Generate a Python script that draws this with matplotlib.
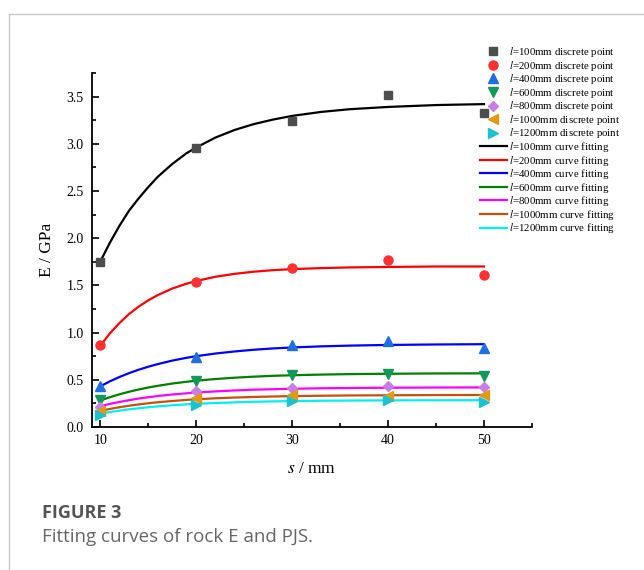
import matplotlib.pyplot as plt
from matplotlib.lines import Line2D
from matplotlib.ticker import MultipleLocator

plt.rcParams['font.family'] = 'Liberation Serif'
plt.rcParams['mathtext.fontset'] = 'stix'

# measured points, E in GPa vs joint spacing s in mm
s_points = [10, 20, 30, 40, 50]
lengths = [100, 200, 400, 600, 800, 1000, 1200]
e_points = {
    100: [1.75, 2.96, 3.245, 3.52, 3.33],
    200: [0.87, 1.54, 1.68, 1.77, 1.61],
    400: [0.435, 0.745, 0.87, 0.915, 0.835],
    600: [0.286, 0.49, 0.55, 0.56, 0.54],
    800: [0.215, 0.38, 0.41, 0.435, 0.42],
    1000: [0.17, 0.31, 0.34, 0.33, 0.34],
    1200: [0.127, 0.233, 0.27, 0.286, 0.26],
}

# fitted curves
s_curve = [10, 11, 12, 13, 14, 15, 16, 17.5, 19, 20, 22, 24, 26, 28, 30, 33, 36, 40, 45, 50]
e_curve = {
    100: [1.75, 1.95, 2.13, 2.29, 2.42, 2.54, 2.65, 2.785, 2.90, 2.96, 3.065, 3.146, 3.208,
          3.256, 3.295, 3.337, 3.366, 3.39, 3.41, 3.42],
    200: [0.86, 0.99, 1.10, 1.196, 1.274, 1.341, 1.397, 1.466, 1.518, 1.546, 1.591, 1.622,
          1.645, 1.661, 1.672, 1.683, 1.69, 1.695, 1.70, 1.70],
    400: [0.43, 0.483, 0.529, 0.570, 0.606, 0.638, 0.666, 0.703, 0.733, 0.75, 0.778, 0.80,
          0.818, 0.832, 0.842, 0.854, 0.862, 0.869, 0.874, 0.877],
    600: [0.28, 0.315, 0.346, 0.373, 0.397, 0.418, 0.436, 0.460, 0.479, 0.490, 0.508, 0.522,
          0.533, 0.542, 0.548, 0.555, 0.560, 0.564, 0.567, 0.568],
    800: [0.22, 0.244, 0.265, 0.284, 0.301, 0.315, 0.328, 0.344, 0.357, 0.365, 0.377, 0.387,
          0.395, 0.400, 0.405, 0.410, 0.413, 0.416, 0.418, 0.419],
    1000: [0.17, 0.191, 0.209, 0.225, 0.239, 0.251, 0.262, 0.275, 0.287, 0.293, 0.304, 0.312,
           0.318, 0.323, 0.327, 0.331, 0.334, 0.336, 0.338, 0.339],
    1200: [0.14, 0.158, 0.173, 0.187, 0.198, 0.209, 0.218, 0.230, 0.240, 0.245, 0.254, 0.261,
           0.267, 0.271, 0.274, 0.278, 0.280, 0.282, 0.283, 0.284],
}

markers = ['s', 'o', '^', 'v', 'D', '<', '>']
marker_colors = ['#4d4d4d', '#ff3030', '#1f6fe0', '#12985a', '#c77fe6', '#e09a10', '#1cc0d0']
marker_sizes = [6, 6.5, 7, 7, 5.5, 7, 7]
line_colors = ['black', '#ff0000', '#0000ff', '#008000', '#ff00ff', '#c8500a', '#00f0f0']

fig = plt.figure(figsize=(6.44, 5.70), dpi=100)
ax = fig.add_axes([0.1429, 0.2509, 0.826 - 0.1429, 0.872 - 0.2509])

for i, l in enumerate(lengths):
    ax.plot(s_points, e_points[l], linestyle='none', marker=markers[i],
            color=marker_colors[i], markersize=marker_sizes[i], zorder=3,
            label=r'$\mathit{l}$=%dmm discrete point' % l)
for i, l in enumerate(lengths):
    ax.plot(s_curve, e_curve[l], color=line_colors[i], lw=1.6, zorder=2,
            solid_joinstyle='round', label=r'$\mathit{l}$=%dmm curve fitting' % l)

ax.set_xlim(9.15, 55)
ax.set_ylim(0, 3.75)
ax.xaxis.set_minor_locator(MultipleLocator(5))
ax.yaxis.set_minor_locator(MultipleLocator(0.25))
ax.set_xticks([10, 20, 30, 40, 50])
ax.set_yticks([0, 0.5, 1.0, 1.5, 2.0, 2.5, 3.0, 3.5])
ax.set_yticklabels(['0.0', '0.5', '1.0', '1.5', '2.0', '2.5', '3.0', '3.5'])
ax.tick_params(which='both', direction='in', width=1.2, labelsize=10)
ax.tick_params(which='major', length=5)
ax.tick_params(which='minor', length=3)
ax.tick_params(axis='y', pad=6)
ax.tick_params(axis='x', pad=5)
for side in ['top', 'right']:
    ax.spines[side].set_visible(False)
for side in ['left', 'bottom']:
    ax.spines[side].set_linewidth(1.3)

ax.set_ylabel('E / GPa', fontsize=12.5, labelpad=8)
ax.set_xlabel(r'$\mathit{s}$ / mm', fontsize=12.5, labelpad=10)

fig.legend(loc='upper left', bbox_to_anchor=(0.745, 0.921), frameon=False,
           fontsize=7.8, labelspacing=-0.04, handlelength=2.5, handletextpad=0.2,
           borderpad=0, borderaxespad=0)

# page frame lines
fig.add_artist(Line2D([9 / 644, 1], [1 - 14 / 570, 1 - 14 / 570], color='#c8c8c8', lw=1))
fig.add_artist(Line2D([9 / 644, 9 / 644], [0, 1 - 14 / 570], color='#c8c8c8', lw=1))

fig.text(42 / 644, 1 - 513 / 570, 'FIGURE 3', fontfamily='Open Sans', fontweight='bold',
         fontsize=13, color='#555555', va='center')
fig.text(42 / 644, 1 - 537 / 570, 'Fitting curves of rock E and PJS.', fontfamily='Open Sans',
         fontsize=13.5, color='#666666', va='center')

plt.savefig('out.png', dpi=100)
